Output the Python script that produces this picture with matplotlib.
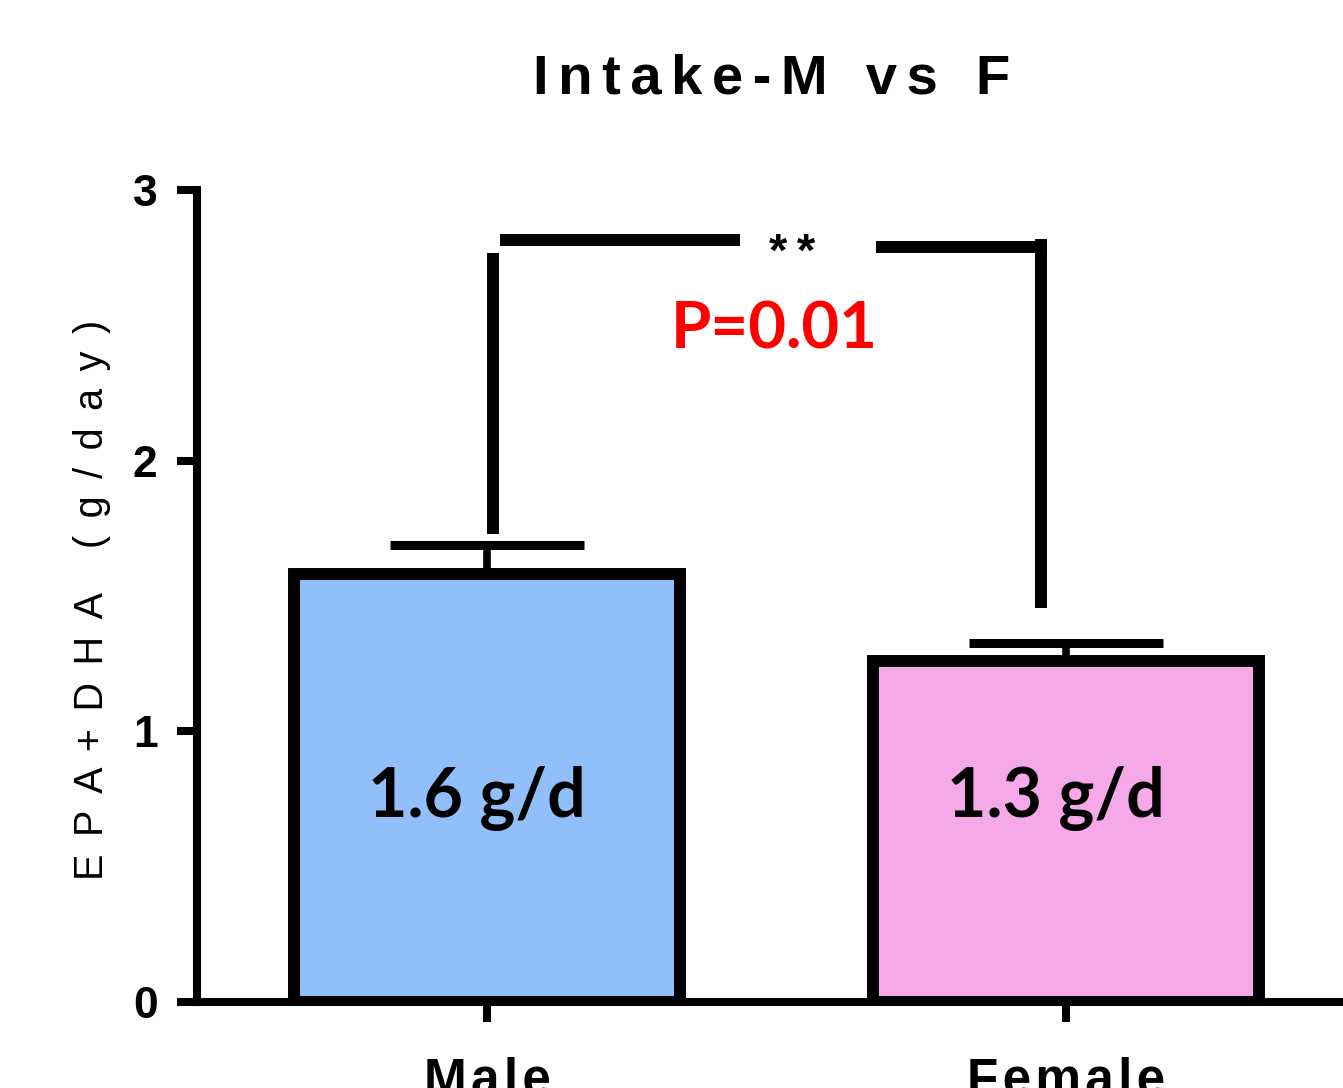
import matplotlib
matplotlib.use("Agg")
import matplotlib.pyplot as plt

# valores
grupos = ["Male", "Female"]
medias = [1.58, 1.26]
erros = [0.11, 0.065]
cores = ["#91BFFA", "#F6A9E8"]
rotulos_barras = ["1.6 g/d", "1.3 g/d"]
yticks = [0, 1, 2, 3]

# colchete de significancia (coordenadas em dados)
braco_esq_x = [0.010, 0.010]
braco_esq_y = [1.729, 2.767]
topo_esq_x = [0.022, 0.437]
topo_esq_y = [2.815, 2.815]
topo_dir_x = [0.672, 0.967]
topo_dir_y = [2.789, 2.789]
braco_dir_x = [0.957, 0.957]
braco_dir_y = [1.456, 2.819]
estrelas = "**"
texto_p = "P=0.01"

FONTE = ["Liberation Sans", "DejaVu Sans"]
FONTE_B = ["Lato", "DejaVu Sans"]
TS = "\u2009"  # espaco fino
HS = "\u200a"  # espaco minimo


def espacar(txt, sep):
    return sep.join(list(txt))


fig = plt.figure(figsize=(13.43, 10.88), dpi=100)
ax = fig.add_axes([197 / 1343, 86 / 1088, 1 - 197 / 1343, 812 / 1088])

x = list(range(len(grupos)))
ax.bar(x, medias, width=0.667, color=cores, edgecolor="black", linewidth=8.6, zorder=2)
ax.errorbar(x, medias, yerr=[[0] * len(erros), erros], fmt="none", ecolor="black",
            elinewidth=5.5, capsize=69.5, capthick=6.5, zorder=1)

for xi, yi, rot in zip(x, [0.683] * 2, rotulos_barras):
    ax.text(xi - 0.017, yi, rot, ha="center", va="baseline", fontsize=49,
            fontweight="bold", family=FONTE_B, zorder=4)

for xs, ys in [(braco_esq_x, braco_esq_y), (topo_esq_x, topo_esq_y),
               (topo_dir_x, topo_dir_y), (braco_dir_x, braco_dir_y)]:
    ax.plot(xs, ys, color="black", lw=8.6, solid_capstyle="butt", zorder=3)

ax.text(0.527, 2.72, espacar(estrelas, TS), ha="center", va="baseline", fontsize=34,
        fontweight="bold", family=FONTE)
ax.text(0.496, 2.416, texto_p, ha="center", va="baseline", fontsize=47,
        fontweight="bold", color="#FF0000", family=FONTE_B)

ax.set_xlim(-0.501, 1.478)
ax.set_ylim(0, 3)
ax.set_xticks(x)
ax.set_xticklabels([espacar(g, HS) for g in grupos])
ax.set_yticks(yticks)
ax.set_yticklabels([str(t) for t in yticks])
for s in ["top", "right"]:
    ax.spines[s].set_visible(False)
for s in ["left", "bottom"]:
    ax.spines[s].set_linewidth(5.8)
    ax.spines[s].set_capstyle("projecting")
ax.tick_params(axis="y", length=14.4, width=5.8, pad=14, labelsize=32)
ax.tick_params(axis="x", length=14.4, width=5.8, pad=25, labelsize=37)
for lab in ax.get_yticklabels() + ax.get_xticklabels():
    lab.set_fontweight("bold")
    lab.set_family(FONTE)

titulo = (TS + " " + TS).join(espacar(p, HS + HS) for p in "Intake-M vs F".split(" "))
fig.text(772 / 1343, 1 - 93 / 1088, titulo, ha="center", va="baseline", fontsize=40.5,
         fontweight="bold", family=FONTE)

sep_y = " " + HS + HS
rotulo_y = (sep_y + " " + sep_y).join(espacar(p, sep_y) for p in "EPA+DHA (g/day)".split(" "))
fig.text(92 / 1343, 1 - 600 / 1088, rotulo_y, ha="center", va="center", rotation=90,
         fontsize=28.5, family=FONTE)

fig.savefig("out.png", dpi=100)
